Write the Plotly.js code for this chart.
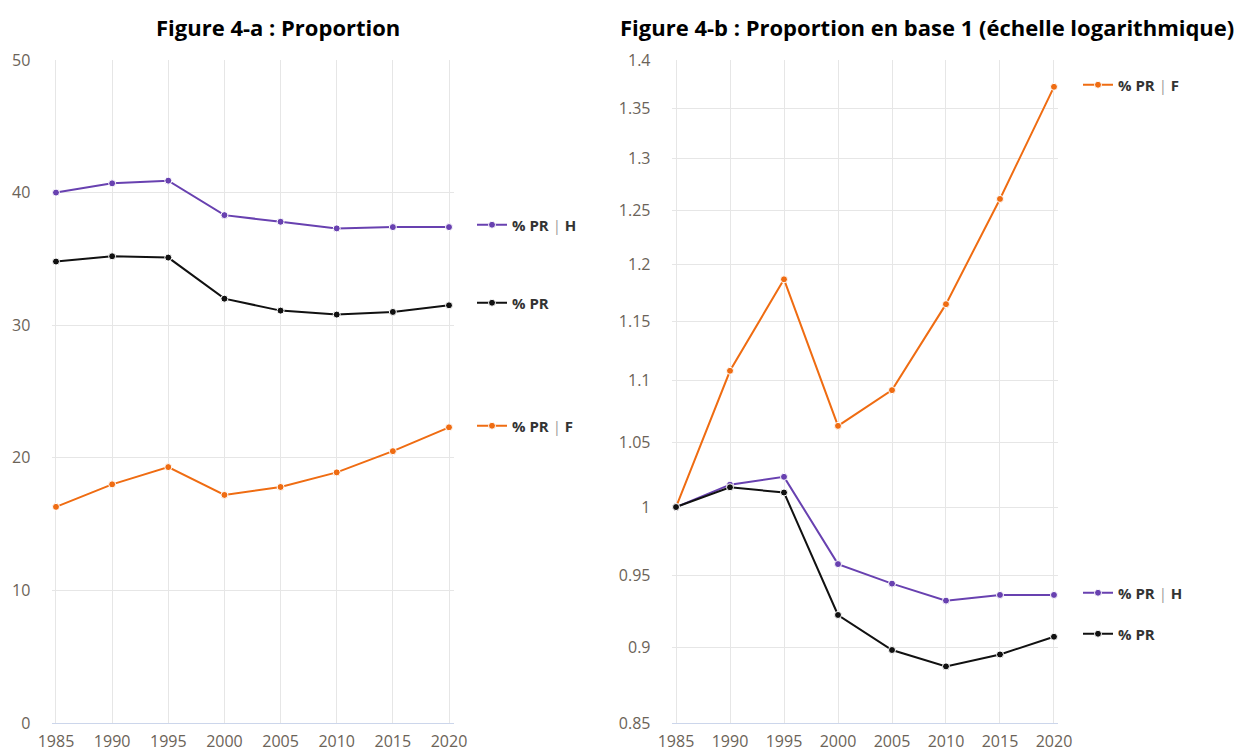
<!DOCTYPE html>
<html><head><meta charset="utf-8">
<script src="https://cdn.plot.ly/plotly-3.0.1.min.js"></script>
<style>html,body{margin:0;padding:0;background:#fff;}#chart{width:1245px;height:751px;}</style>
</head><body><div id="chart"></div>
<script>
const years = [1985, 1990, 1995, 2000, 2005, 2010, 2015, 2020];
// Figure 4-a : Proportion (%)
const propH  = [40.0, 40.7, 40.9, 38.3, 37.8, 37.3, 37.4, 37.4];
const propPR = [34.8, 35.2, 35.1, 32.0, 31.1, 30.8, 31.0, 31.5];
const propF  = [16.3, 18.0, 19.3, 17.2, 17.8, 18.9, 20.5, 22.3];
// Figure 4-b : Proportion en base 1
const baseF  = [1.0, 1.108, 1.187, 1.063, 1.092, 1.165, 1.261, 1.372];
const baseH  = [1.0, 1.017, 1.023, 0.958, 0.944, 0.932, 0.936, 0.936];
const basePR = [1.0, 1.015, 1.011, 0.922, 0.898, 0.887, 0.895, 0.907];
const leftTicks  = [0, 10, 20, 30, 40, 50];
const rightTicks = [0.85, 0.9, 0.95, 1, 1.05, 1.1, 1.15, 1.2, 1.25, 1.3, 1.35, 1.4];
const rightTickText = ['0.85','0.9','0.95','1','1.05','1.1','1.15','1.2','1.25','1.3','1.35','1.4'];
const names = {
  H: "% PR <span style='color:#9a9a9a;font-weight:normal'>|</span> H",
  PR: "% PR",
  F: "% PR <span style='color:#9a9a9a;font-weight:normal'>|</span> F"
};
const colors = {H: '#6841b0', PR: '#111111', F: '#ef6c12'};

function tr(y, key, xa, ya, leg) {
  return {
    x: years, y: y, type: 'scatter', mode: 'lines+markers', name: names[key],
    xaxis: xa, yaxis: ya, legend: leg,
    line: {color: colors[key], width: 2},
    marker: {color: colors[key], size: 7, line: {color: '#ffffff', width: 1}},
    hoverinfo: 'x+y'
  };
}
const data = [
  tr(propH, 'H', 'x', 'y', 'legend'),
  tr(propPR, 'PR', 'x', 'y', 'legend2'),
  tr(propF, 'F', 'x', 'y', 'legend3'),
  tr(baseF, 'F', 'x2', 'y2', 'legend4'),
  tr(baseH, 'H', 'x2', 'y2', 'legend5'),
  tr(basePR, 'PR', 'x2', 'y2', 'legend6')
];
const W = 1245, H = 751;
const tickFont = {family: 'Open Sans, sans-serif', size: 16, color: '#6b6358'};
const gridC = '#e6e6e6';
function legend(px, py) {
  return {x: px / W, y: 1 - py / H, xanchor: 'left', yanchor: 'middle', bgcolor: 'rgba(0,0,0,0)',
    font: {family: 'Open Sans, sans-serif', size: 15, color: '#333333', weight: 'bold'},
    itemwidth: 30, tracegroupgap: 0};
}
const layout = {
  width: W, height: H,
  margin: {l: 0, r: 0, t: 0, b: 0},
  paper_bgcolor: '#ffffff', plot_bgcolor: '#ffffff',
  showlegend: true,
  xaxis: {domain: [51.5 / W, 453.5 / W], range: [1984.6, 2020.4], tickvals: years,
    ticktext: years.map(String), showgrid: true, gridcolor: gridC, showline: true, linecolor: '#ccd6eb',
    linewidth: 1, zeroline: false, tickfont: tickFont, ticks: 'outside', ticklen: 4, tickcolor: 'rgba(0,0,0,0)', anchor: 'y'},
  yaxis: {domain: [1 - 723 / H, 1 - 60 / H], range: [0, 50], tickvals: leftTicks,
    showgrid: true, gridcolor: gridC, zeroline: false, showline: false, tickfont: tickFont,
    ticks: 'outside', ticklen: 17, tickcolor: 'rgba(0,0,0,0)', anchor: 'x'},
  xaxis2: {domain: [671.7 / W, 1058.3 / W], range: [1984.6, 2020.4], tickvals: years,
    ticktext: years.map(String), showgrid: true, gridcolor: gridC, showline: true, linecolor: '#ccd6eb',
    linewidth: 1, zeroline: false, tickfont: tickFont, ticks: 'outside', ticklen: 4, tickcolor: 'rgba(0,0,0,0)', anchor: 'y2'},
  yaxis2: {type: 'log', domain: [1 - 723 / H, 1 - 60 / H], range: [Math.log10(0.85), Math.log10(1.4)],
    tickvals: rightTicks, ticktext: rightTickText, showgrid: true, gridcolor: gridC, zeroline: false,
    showline: false, tickfont: tickFont, ticks: 'outside', ticklen: 17, tickcolor: 'rgba(0,0,0,0)', anchor: 'x2'},
  legend: legend(472, 225),
  legend2: legend(472, 303),
  legend3: legend(472, 426),
  legend4: legend(1078, 85),
  legend5: legend(1078, 593),
  legend6: legend(1078, 634),
  annotations: [
    {text: '<b>Figure 4-a : Proportion</b>', xref: 'paper', yref: 'paper', x: 278 / W, y: 1 - 27 / H,
     xanchor: 'center', yanchor: 'middle', showarrow: false,
     font: {family: 'Open Sans, sans-serif', size: 22, color: '#000000'}},
    {text: '<b>Figure 4-b : Proportion en base 1 (échelle logarithmique)</b>', xref: 'paper', yref: 'paper',
     x: 927 / W, y: 1 - 27 / H, xanchor: 'center', yanchor: 'middle', showarrow: false,
     font: {family: 'Open Sans, sans-serif', size: 22, color: '#000000'}}
  ]
};
Plotly.newPlot('chart', data, layout, {displayModeBar: false, responsive: false});
</script></body></html>
